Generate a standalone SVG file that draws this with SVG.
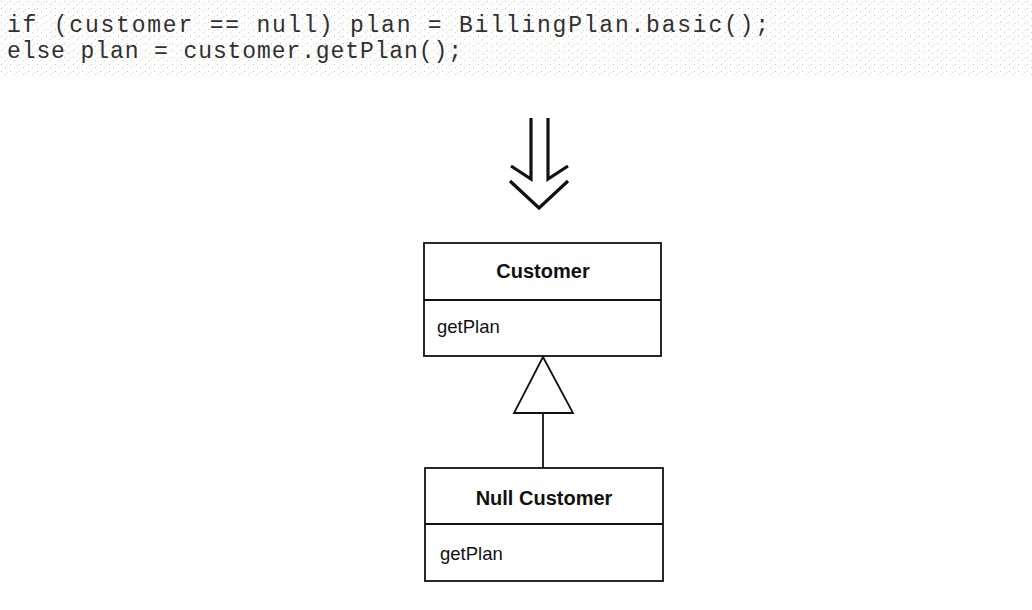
<svg xmlns="http://www.w3.org/2000/svg" width="1032" height="610" viewBox="0 0 1032 610">
<defs>
<pattern id="speck" width="9" height="7" patternUnits="userSpaceOnUse">
<rect x="1" y="1" width="1" height="1" fill="#c4c4c4"/>
<rect x="5" y="4" width="1" height="1" fill="#d0d0d0"/>
<rect x="7" y="2" width="1" height="1" fill="#dcdcdc"/>
</pattern>
</defs>
<style>
.code{font-family:"Liberation Mono","Courier New",monospace;font-size:23px;fill:#303030}
.box{fill:#fff;stroke:#111;stroke-width:1.8}
.title{font-family:"Liberation Sans",Arial,sans-serif;font-size:20px;font-weight:bold;fill:#111;text-anchor:middle}
.op{font-family:"Liberation Sans",Arial,sans-serif;font-size:18.5px;fill:#111}
.con{fill:none;stroke:#111;stroke-width:1.8}
.arr{fill:none;stroke:#111;stroke-width:3.2;stroke-linejoin:miter}
</style>
<rect width="1032" height="610" fill="#fff"/>
<rect x="0" y="0" width="1032" height="78" fill="url(#speck)"/>
<g id="code">
<text class="code" x="7" y="32" textLength="762" lengthAdjust="spacing">if (customer == null) plan = BillingPlan.basic();</text>
<text class="code" x="7" y="58" textLength="455" lengthAdjust="spacing">else plan = customer.getPlan();</text>
</g>
<g id="transform-arrow">
<path class="arr" d="M531,118 V179 L511,166"/>
<path class="arr" d="M548,118 V179 L568,166"/>
<path class="arr" d="M510,181 L539,208 L568,181"/>
</g>
<g id="customer">
<rect class="box" x="424" y="243" width="237" height="113"/>
<line class="con" x1="424" y1="300" x2="661" y2="300"/>
<text class="title" x="543" y="278">Customer</text>
<text class="op" x="437" y="333">getPlan</text>
</g>
<g id="null-customer">
<rect class="box" x="425" y="468" width="238" height="113"/>
<line class="con" x1="425" y1="524" x2="663" y2="524"/>
<text class="title" x="544" y="505">Null Customer</text>
<text class="op" x="440" y="560">getPlan</text>
</g>
<g id="connectors">
<line class="con" x1="543" y1="413" x2="543" y2="468"/>
<polygon class="box" points="543,357 514,413 573,413"/>
</g>
</svg>
